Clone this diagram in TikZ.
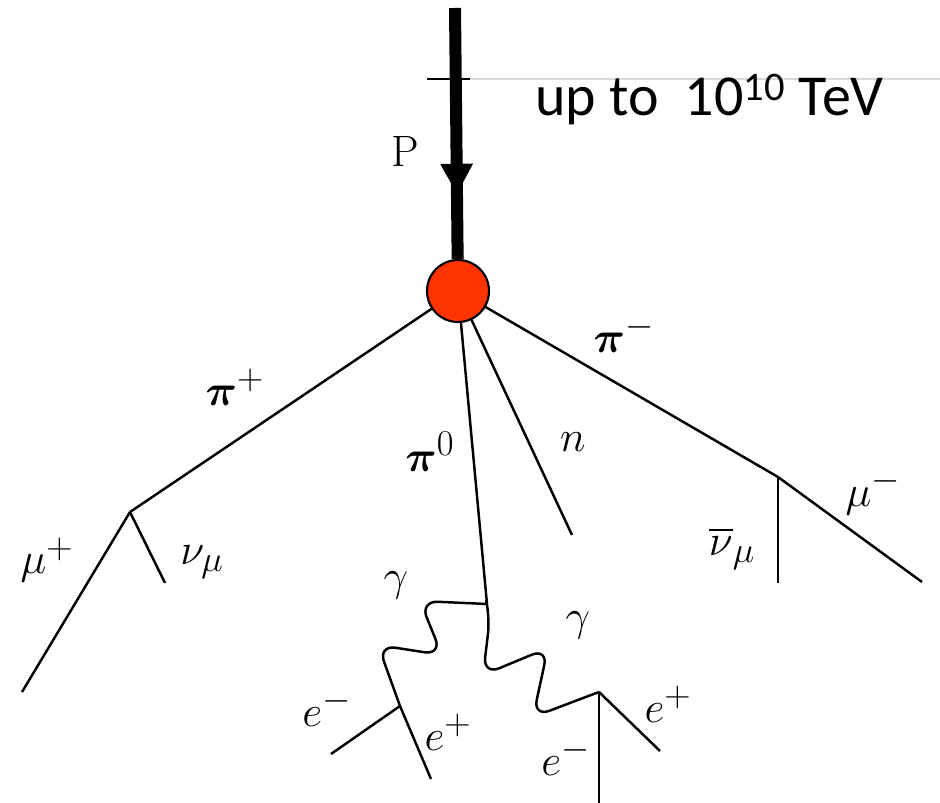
\documentclass[tikz,border=0pt]{standalone}
\usepackage{amsmath,amssymb}
\usepackage{fontspec}
\newfontfamily\energyfont{Carlito}
\usetikzlibrary{arrows.meta,decorations.markings}
\definecolor{vtxred}{RGB}{255,51,0}

\begin{document}
\begin{tikzpicture}[x=0.02cm, y=-0.02cm, every node/.style={font=\fontsize{28}{32}\selectfont, inner sep=0pt}]
\tikzstyle{track}=[draw=black, line width=1.4pt]
\tikzstyle{photon}=[draw=black, line width=1.4pt, rounded corners=10pt]
\tikzstyle{beam}=[draw=black, line width=0.24cm, postaction={decorate}, decoration={markings, mark=at position 0.74 with {\arrow{Triangle[width=0.66cm, length=0.6cm, line width=0pt]}}}]
\useasboundingbox (0,0) rectangle (940,803);
% primary interaction
\node[circle, draw=black, line width=1.2pt, fill=vtxred, minimum size=1.24cm] (vtx) at (458,291) {};
\coordinate (top) at (455,8);
\coordinate (tickL) at (427,79);
\coordinate (tickR) at (470,79);
\coordinate (edge) at (940,79);
% decay points
\coordinate (piP) at (130,512);
\coordinate (muP) at (22,692);
\coordinate (nuP) at (165,583);
\coordinate (piZ) at (487,604);
\coordinate (eta) at (572,535);
\coordinate (piM) at (778,477);
\coordinate (muM) at (922,582);
\coordinate (nuM) at (778,583);
\coordinate (gL) at (400,706);
\coordinate (eLm) at (331,754);
\coordinate (eLp) at (431,779);
\coordinate (gR) at (599,692);
\coordinate (eRm) at (599,803);
\coordinate (eRp) at (660,751);
% incoming proton
\draw[beam] (top) -- (vtx);
\draw[black, line width=1.2pt] (tickL) -- (tickR);
\draw[black!15, line width=0.6pt] (tickR) -- (edge);
\node[anchor=base west, font=\energyfont\fontsize{33}{36}\selectfont] (energy) at (535,116) {up to\ \ 10\textsuperscript{10} TeV};
\node[font=\rmfamily\fontsize{25}{30}\selectfont] (p) at (405,152) {P};
% secondaries
\draw[track] (vtx) -- (piP);
\draw[track] (piP) -- (muP);
\draw[track] (piP) -- (nuP);
\draw[track] (vtx) -- (piZ);
\draw[track] (vtx) -- (eta);
\draw[track] (vtx) -- (piM);
\draw[track] (piM) -- (muM);
\draw[track] (piM) -- (nuM);
% photons from the neutral pion
\draw[photon] (piZ) -- (420,601) -- (442,655) -- (378,645) -- (gL);
\draw[photon] (piZ) -- (490,617) -- (483,675) -- (548,648) -- (533,717) -- (gR);
\draw[track] (gL) -- (eLm);
\draw[track] (gL) -- (eLp);
\draw[track] (gR) -- (eRm);
\draw[track] (gR) -- (eRp);
% labels
\node (lpiP) at (235,387) {$\boldsymbol{\pi}^+$};
\node (lpiZ) at (430,452) {$\boldsymbol{\pi}^0$};
\node (leta) at (573,442) {$n$};
\node (lpiM) at (624,334) {$\boldsymbol{\pi}^-$};
\node (lmuP) at (47,560) {$\mu^+$};
\node (lnuP) at (202,562) {$\nu_\mu$};
\node (lnuM) at (732,548) {$\overline{\nu}_\mu$};
\node (lmuM) at (873,492) {$\mu^-$};
\node (lgL) at (396,585) {$\gamma$};
\node (lgR) at (578,625) {$\gamma$};
\node (leLm) at (327,708) {$e^-$};
\node (leLp) at (448,732) {$e^+$};
\node (leRm) at (566,757) {$e^-$};
\node (leRp) at (668,704) {$e^+$};
\end{tikzpicture}
\end{document}
